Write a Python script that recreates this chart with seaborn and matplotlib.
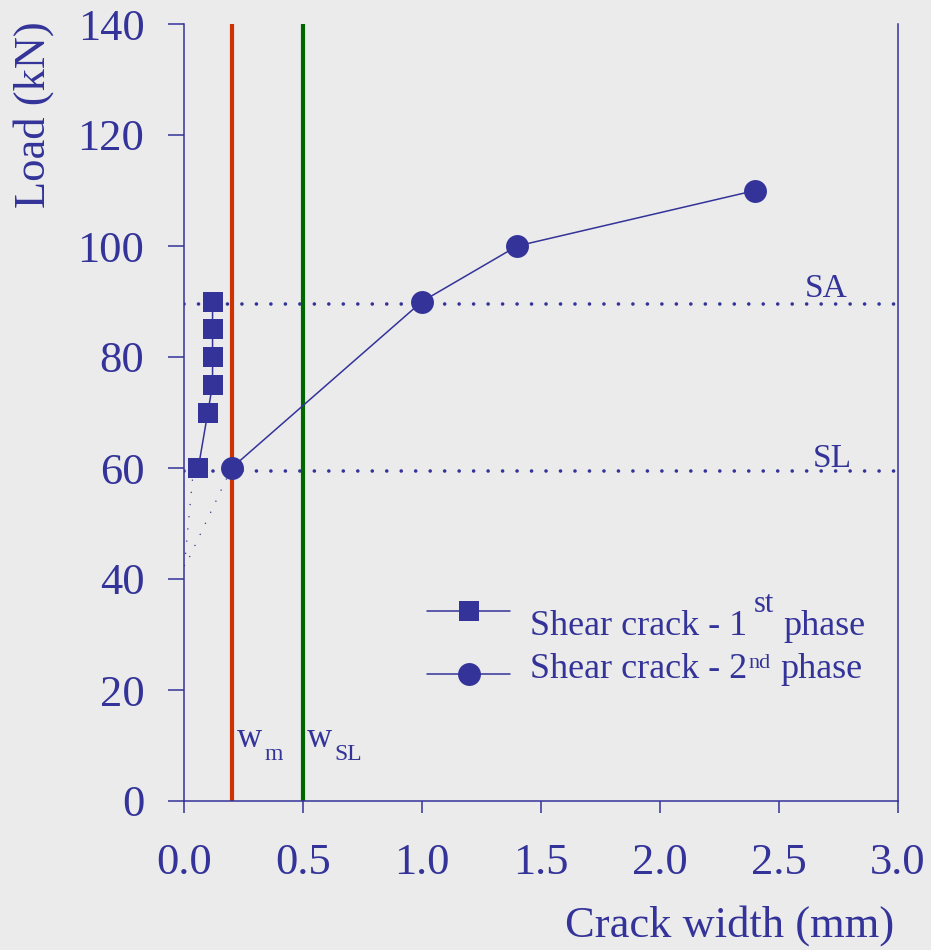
import numpy as np
import pandas as pd
import matplotlib
matplotlib.use('Agg')
import matplotlib.pyplot as plt
import seaborn as sns

# data
phase1_width = [0.06, 0.10, 0.12, 0.12, 0.12, 0.12]
phase1_load = [60, 70, 75, 80, 85, 90]
phase2_width = [0.2, 1.0, 1.4, 2.4]
phase2_load = [60, 90, 100, 110]
# dotted extrapolations down to the load axis
extra1_width = [0.04, 0.0]
extra1_load = [60, 41.5]
extra2_width = [0.2, 0.017]
extra2_load = [60, 43.4]
sa_load = 89.5
sl_load = 59.5
wm = 0.2
wsl = 0.5
x_ticks = [0.0, 0.5, 1.0, 1.5, 2.0, 2.5, 3.0]
y_ticks = [0, 20, 40, 60, 80, 100, 120, 140]

navy = '#333399'
bg = '#EBEBEB'

sns.set_style('white')
plt.rcParams['font.family'] = ['Liberation Serif', 'DejaVu Serif']

fig = plt.figure(figsize=(9.31, 9.5), dpi=100, facecolor=bg)
ax = fig.add_axes([184/931, 1 - 801/950, (898-184)/931, (801-24)/950])
ax.set_facecolor(bg)

# SA / SL levels
ax.axhline(sa_load, color=navy, ls=(0, (0.01, 4)), lw=2.6, dash_capstyle='round', zorder=1)
ax.axhline(sl_load, color=navy, ls=(0, (0.01, 4)), lw=2.6, dash_capstyle='round', zorder=1)
# crack width limits
ax.axvline(wm, color='#CC3300', lw=3, zorder=2)
ax.axvline(wsl, color='#006600', lw=3, zorder=2)

sns.lineplot(x=extra1_width, y=extra1_load, ax=ax, color=navy, lw=1.1,
             ls=(0, (0.01, 8)), dash_capstyle='round', estimator=None, sort=False, zorder=1)
sns.lineplot(x=extra2_width, y=extra2_load, ax=ax, color=navy, lw=1.1,
             ls=(0, (0.01, 8)), dash_capstyle='round', estimator=None, sort=False, zorder=1)

sns.lineplot(x=phase1_width, y=phase1_load, ax=ax, color=navy, marker='s',
             markersize=14, markeredgewidth=0, lw=1.1, estimator=None, sort=False,
             label='Shear crack - 1', zorder=3)
sns.lineplot(x=phase2_width, y=phase2_load, ax=ax, color=navy, marker='o',
             markersize=16.5, markeredgewidth=0, lw=1.1, estimator=None, sort=False,
             label='Shear crack - 2', zorder=3)

ax.set_xlim(0, 3.0)
ax.set_ylim(0, 140)
ax.set_xticks(x_ticks)
ax.set_xticklabels([f'{t:.1f}' for t in x_ticks])
ax.set_yticks(y_ticks)
ax.tick_params(colors=navy, labelsize=32, width=1.1, direction='out',
               bottom=True, left=True)
ax.tick_params(axis='y', length=11.5, pad=17)
ax.tick_params(axis='x', length=8.6, pad=22)
for side in ['left', 'bottom', 'right']:
    ax.spines[side].set_color(navy)
    ax.spines[side].set_linewidth(1.1)
ax.spines['top'].set_visible(False)

ax.text(2.61, 90.8, 'SA', color=navy, fontsize=24, ha='left', va='baseline')
ax.text(2.643, 60.2, 'SL', color=navy, fontsize=24, ha='left', va='baseline')


def sub_text(x, y, main, script, dx, dy, size, ssize):
    t = ax.text(x, y, main, color=navy, fontsize=size, ha='left', va='baseline')
    ax.annotate(script, xy=(1, 0), xycoords=t, xytext=(dx, dy), textcoords='offset pixels',
                color=navy, fontsize=ssize, ha='left', va='bottom', annotation_clip=False)


sub_text(0.221, 9.7, 'w', 'm', 3, -10, 25, 17)
sub_text(0.515, 9.7, 'w', 'SL', 3, -10, 25, 17)

ax.set_xlabel('')
ax.set_ylabel('')
fig.text(34/931, 1 - 21/950, 'Load (kN)', rotation=90, color=navy, fontsize=32,
         ha='center', va='top')
fig.text(894/931, 1 - 926/950, 'Crack width (mm)', color=navy, fontsize=32,
         ha='right', va='center')

leg = ax.legend(loc='center left', bbox_to_anchor=(0.3403, 0.199), frameon=False,
                fontsize=26, handlelength=2.3, labelcolor=navy, labelspacing=0.82,
                handletextpad=0.55, borderpad=0, borderaxespad=0, markerscale=1.0)
leg_texts = leg.get_texts()
leg_texts[0].set_y(-11)
leg_texts[1].set_y(8)

# superscripts and the rest of the legend labels
sups = [('st', 24, 7, 22, 9), ('nd', 13, 1, 16, 10)]
for txt, (sup, dy, gap, ssize, gap2) in zip(leg_texts, sups):
    s = ax.annotate(sup, xy=(1, 0), xycoords=txt, xytext=(gap, dy), textcoords='offset pixels',
                    color=navy, fontsize=ssize, ha='left', va='bottom',
                    annotation_clip=False, zorder=6)
    ax.annotate('phase', xy=(1, 0), xycoords=(s, txt), xytext=(gap2, 0),
                textcoords='offset pixels', color=navy, fontsize=26, ha='left',
                va='bottom', annotation_clip=False, zorder=7)

fig.savefig('out.png', dpi=100, facecolor=bg)
